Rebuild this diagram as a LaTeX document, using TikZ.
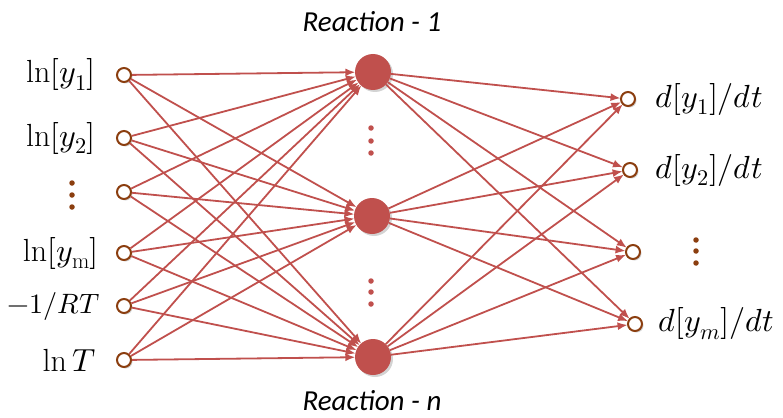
\documentclass[tikz,border=0pt]{standalone}
\usepackage{fontspec}
\usepackage{unicode-math}
\newfontfamily\calib{Carlito}
\usetikzlibrary{arrows.meta,shadows}
\definecolor{lred}{HTML}{C0504D}
\definecolor{brn}{HTML}{8B3E0F}
\begin{document}
\begin{tikzpicture}[x=1pt,y=-1pt,
  io/.style={circle,draw=brn,line width=2pt,fill=white,minimum size=14pt,inner sep=0pt,
    drop shadow={shadow xshift=1.5pt,shadow yshift=-1.5pt,opacity=0.35}},
  hid/.style={circle,fill=lred,minimum size=36pt,inner sep=0pt,
    drop shadow={shadow xshift=2pt,shadow yshift=-2pt,opacity=0.35}},
  conn/.style={draw=lred,line width=1.8pt,-{Latex[length=10pt,width=8pt]},shorten >=-0.5pt},
  lbl/.style={font=\fontsize{32}{36}\selectfont,inner sep=0pt},
  rlbl/.style={font=\calib\itshape\fontsize{29}{34}\selectfont,inner sep=0pt},
  bdot/.style={circle,fill=brn,minimum size=5.5pt,inner sep=0pt},
  rdot/.style={circle,fill=lred,minimum size=5.5pt,inner sep=0pt}]
\useasboundingbox (0,0) rectangle (783,417);
% input nodes
\node[io] (i1) at (124,75) {};
\node[io] (i2) at (124,138) {};
\node[io] (i3) at (124,192) {};
\node[io] (i4) at (124,253) {};
\node[io] (i5) at (124,306) {};
\node[io] (i6) at (124,360) {};
% hidden nodes
\node[hid] (h1) at (373,72) {};
\node[hid] (h2) at (372,216) {};
\node[hid] (h3) at (373,357) {};
% output nodes
\node[io] (o1) at (628,99) {};
\node[io] (o2) at (630,170) {};
\node[io] (o3) at (633,252) {};
\node[io] (o4) at (635,324) {};
% connectors
\foreach \i in {1,...,6}{\foreach \h in {1,2,3}{\draw[conn] (i\i) -- (h\h);}}
\foreach \h in {1,2,3}{\foreach \o in {1,...,4}{\draw[conn] (h\h) -- (o\o);}}
% labels
\node[lbl,anchor=east] (l1) at (96,75) {$\ln[y_1]$};
\node[lbl,anchor=east] (l2) at (96,138) {$\ln[y_2]$};
\node[lbl,anchor=east] (l4) at (99,253) {$\ln[y_{\mathrm{m}}]$};
\node[lbl,anchor=east,font=\fontsize{28}{32}\selectfont] (l5) at (100,306) {$-1/RT$};
\node[lbl,anchor=east] (l6) at (96,360) {$\ln T$};
\node[lbl,anchor=west] (r1) at (655,99) {$d[y_1]/dt$};
\node[lbl,anchor=west] (r2) at (655,170) {$d[y_2]/dt$};
\node[lbl,anchor=west] (r4) at (658,324) {$d[y_m]/dt$};
\node[rlbl] (t1) at (372,22) {Reaction - 1};
\node[rlbl] (t3) at (372,401) {Reaction - n};
% dots
\node[bdot] (ld1) at (72,183) {};
\node[bdot] (ld2) at (72,195) {};
\node[bdot] (ld3) at (72,207) {};
\node[bdot] (rd1) at (696,240) {};
\node[bdot] (rd2) at (696,251) {};
\node[bdot] (rd3) at (696,263) {};
\node[rdot] (md1) at (371,128) {};
\node[rdot] (md2) at (371,141) {};
\node[rdot] (md3) at (371,153) {};
\node[rdot] (md4) at (371,281) {};
\node[rdot] (md5) at (371,292) {};
\node[rdot] (md6) at (371,304) {};
\end{tikzpicture}
\end{document}
